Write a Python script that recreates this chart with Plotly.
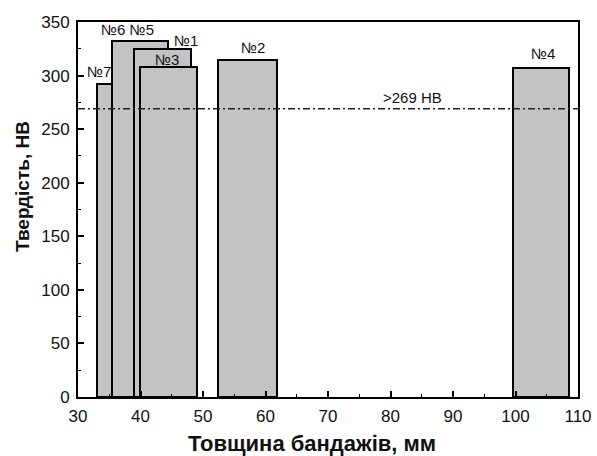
import plotly.graph_objects as go

# Bandage samples: thickness range (mm) and hardness (HB)
samples = ["№7", "№6", "№5", "№1", "№3", "№2", "№4"]
thick_from = [33.0, 35.5, 35.5, 39.0, 39.9, 52.4, 99.6]
thick_to = [36.0, 44.4, 44.4, 48.0, 49.0, 61.9, 108.6]
hardness = [292, 332, 332, 325, 308, 315, 307]

threshold = 269
threshold_text = ">269 HB"

x_ticks = [30, 40, 50, 60, 70, 80, 90, 100, 110]
y_ticks = [0, 50, 100, 150, 200, 250, 300, 350]

x_title = "Товщина бандажів, мм"
y_title = "Твердість, НВ"

centers = [(a + b) / 2 for a, b in zip(thick_from, thick_to)]
widths = [b - a for a, b in zip(thick_from, thick_to)]

FONT = "Liberation Sans, Arial, sans-serif"

fig = go.Figure()
fig.add_trace(go.Bar(
    x=centers, y=hardness, width=widths,
    marker=dict(color="#c3c3c3", line=dict(color="black", width=2)),
    hoverinfo="skip", showlegend=False,
))

# hardness threshold line
fig.add_shape(type="line", xref="paper", x0=0, x1=1, yref="y", y0=threshold, y1=threshold,
              line=dict(color="#222222", width=1.5, dash="7px,3px,2px,3px"))

font_lbl = dict(family=FONT, size=15, color="#111111")

# sample labels (text position beside each bar group)
label_pos = [
    ("№7", 33.3, 304),
    ("№6 №5", 37.9, 343),
    ("№1", 47.2, 333),
    ("№3", 44.2, 315),
    ("№2", 58.0, 326),
    ("№4", 104.4, 321),
]
for txt, lx, ly in label_pos:
    fig.add_annotation(x=lx, y=ly, text=txt, showarrow=False, font=font_lbl,
                       xanchor="center", yanchor="middle")
fig.add_annotation(x=83.5, y=280, text=threshold_text, showarrow=False, font=font_lbl,
                   xanchor="center", yanchor="middle")

# axis titles
fig.add_annotation(xref="paper", yref="paper", x=0.468, y=-0.123, text=f"<b>{x_title}</b>",
                   showarrow=False, xanchor="center", yanchor="middle",
                   font=dict(family=FONT, size=22, color="#111111"))
fig.add_annotation(xref="paper", yref="paper", x=-0.11, y=0.56, text=f"<b>{y_title}</b>",
                   showarrow=False, xanchor="center", yanchor="middle", textangle=-90,
                   font=dict(family=FONT, size=19, color="#111111"))

axis_common = dict(
    showline=True, linecolor="black", linewidth=2, mirror=True,
    ticks="inside", ticklen=6, tickwidth=1.5, tickcolor="black",
    showgrid=False, zeroline=False, automargin=False,
    tickfont=dict(family=FONT, size=17, color="#111111"),
)

fig.update_layout(
    width=597, height=456,
    margin=dict(l=78, r=19, t=22, b=59),
    paper_bgcolor="white", plot_bgcolor="white",
    barmode="overlay", bargap=0,
    xaxis=dict(range=[30, 110], tickvals=x_ticks, ticklabelstandoff=3,
               minor=dict(dtick=5, ticks="inside", ticklen=3, tickcolor="black", tickwidth=1.2),
               **axis_common),
    yaxis=dict(range=[0, 350], tickvals=y_ticks, ticklabelstandoff=3,
               minor=dict(dtick=25, ticks="inside", ticklen=3, tickcolor="black", tickwidth=1.2),
               **axis_common),
)

fig.write_html("out.html")
